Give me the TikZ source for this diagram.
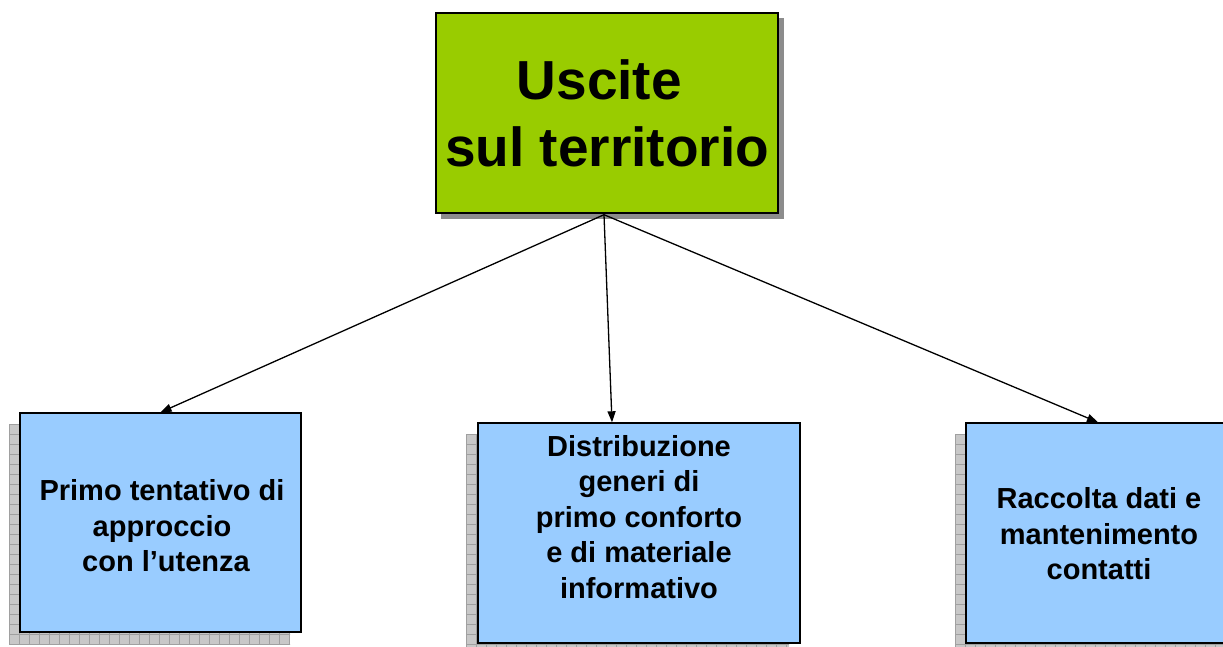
\documentclass[tikz,border=0pt]{standalone}
\usepackage{fontspec}
\setmainfont{Liberation Sans}
\usetikzlibrary{arrows.meta,calc}
\definecolor{boxgreen}{HTML}{99CC00}
\definecolor{boxblue}{HTML}{99CCFF}
\definecolor{shadowgrid}{HTML}{A0A0A0}
\definecolor{shadowfill}{HTML}{C8C8C8}
\tikzset{
  bluebox/.style={draw=black, line width=1.4pt, fill=boxblue, inner sep=0pt},
  greenbox/.style={draw=black, line width=1.4pt, fill=boxgreen, inner sep=0pt, align=center,
    font=\bfseries\fontsize{55}{67}\selectfont},
  boxtext/.style={align=center, font=\bfseries\fontsize{29}{35.5}\selectfont, inner sep=0pt},
  link/.style={line width=1.3pt, -{Triangle[length=11pt,width=8pt]}},
}
\newcommand{\gridshadow}[4]{% x1 y1 x2 y2
  \begin{scope}
    \clip (#1,#2) rectangle (#3,#4);
    \fill[shadowfill] (#1,#2) rectangle (#3,#4);
    \foreach \gx in {0,10,...,400} \draw[shadowgrid, line width=1pt] ($(#1,#2)+(\gx,0)$) -- ++(0,300);
    \foreach \gy in {0,10,...,300} \draw[shadowgrid, line width=1pt] ($(#1,#2)+(0,\gy)$) -- ++(400,0);
  \end{scope}}
\begin{document}
\begin{tikzpicture}[x=1pt,y=-1pt]
\useasboundingbox (0,0) rectangle (1223,647);
% shadows
\fill[gray!90] (441,18) rectangle (784,219);
\gridshadow{9}{424}{290}{644}
\gridshadow{466}{434}{789}{647}
\gridshadow{955}{434}{1223}{647}
% boxes
\node[greenbox, minimum width=342pt, minimum height=200pt] (top) at (607,113) {Uscite\hphantom{\ }\\sul territorio};
\node[bluebox, minimum width=281pt, minimum height=219pt] (b1) at (160.5,522.5) {};
\node[bluebox, minimum width=322pt, minimum height=220pt] (b2) at (639,533) {};
\node[bluebox, minimum width=264pt, minimum height=220pt] (b3) at (1098,533) {};
% texts
\node[boxtext] (t1) at (162,526) {Primo tentativo di\\approccio\\\ con l’utenza};
\node[boxtext] (t2) at (639,517) {Distribuzione\\generi di\\primo conforto\\e di materiale\\informativo};
\node[boxtext] (t3) at (1099,534) {Raccolta dati e\\mantenimento\\contatti};
% connectors
\coordinate (src) at ($(top.south)+(-3,1)$);
\draw[link] (src) -- (b1.north);
\draw[link] (src) -- ($(b2.north)+(-27,0)$);
\draw[link] (src) -- (b3.north);
\end{tikzpicture}
\end{document}
